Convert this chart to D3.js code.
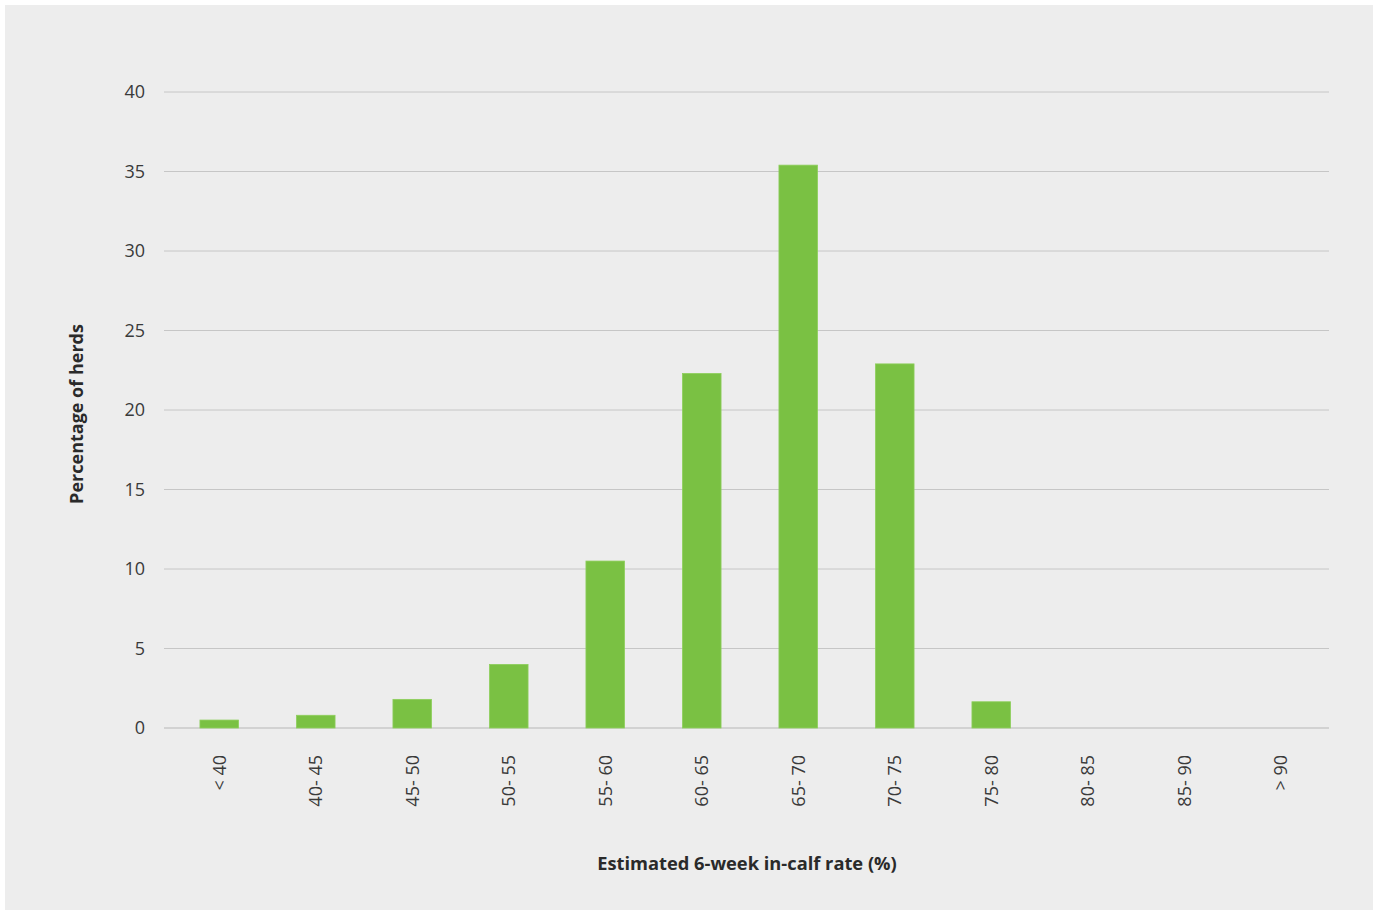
<!DOCTYPE html>
<html><head><meta charset="utf-8">
<script src="https://cdn.jsdelivr.net/npm/d3@7"></script>
<style>body{margin:0;background:#fff}svg{display:block}</style>
</head><body>
<script>
const categories = ["< 40","40- 45","45- 50","50- 55","55- 60","60- 65","65- 70","70- 75","75- 80","80- 85","85- 90","> 90"];
const values = [0.5,0.8,1.8,4.0,10.5,22.3,35.4,22.9,1.65,0,0,0];
const yTicks = [0,5,10,15,20,25,30,35,40];
const yTitle = "Percentage of herds";
const xTitle = "Estimated 6-week in-calf rate (%)";

const W=1378,H=914;
const svg=d3.select("body").append("svg").attr("width",W).attr("height",H);
svg.append("rect").attr("x",5).attr("y",5).attr("width",1368).attr("height",905).attr("fill","#EDEDED");

const x=d3.scaleBand().domain(categories).range([171,1329]).paddingInner(0.6).paddingOuter(0.3);
const y=d3.scaleLinear().domain([0,40]).range([728,92]);
const font="'Open Sans', sans-serif";

svg.append("g").selectAll("line").data(yTicks).join("line")
  .attr("x1",164).attr("x2",1329).attr("y1",d=>y(d)).attr("y2",d=>y(d))
  .attr("stroke",d=>d===0?"#D2D2D2":"#C6C6C6").attr("stroke-width",d=>d===0?2:1);

const ya=svg.append("g").attr("transform","translate(164,0)")
  .call(d3.axisLeft(y).tickValues(yTicks).tickSize(0).tickPadding(19));
ya.select(".domain").remove();
ya.selectAll("text").attr("font-family",font).attr("font-size",18).attr("fill","#3a3a3a");

svg.append("g").selectAll("rect").data(values).join("rect")
  .attr("x",(d,i)=>x(categories[i])).attr("width",x.bandwidth())
  .attr("y",d=>y(d)).attr("height",d=>y(0)-y(d))
  .attr("fill","#7AC143").attr("stroke","#8ECF5C").attr("stroke-width",0.8);

const xa=svg.append("g").attr("transform","translate(0,729)")
  .call(d3.axisBottom(x).tickSize(0).tickPadding(0));
xa.select(".domain").remove();
xa.selectAll("text").attr("font-family",font).attr("font-size",18).attr("fill","#3a3a3a")
  .attr("transform","rotate(-90)").attr("text-anchor","end").attr("dy","0.35em")
  .attr("x",-26).attr("y",0);

svg.append("text").attr("x",747).attr("y",870).attr("text-anchor","middle")
  .attr("font-family",font).attr("font-weight","bold").attr("font-size",18.3).attr("fill","#2a2a2a").text(xTitle);
svg.append("text").attr("transform","translate(83,414) rotate(-90)").attr("text-anchor","middle")
  .attr("font-family",font).attr("font-weight","bold").attr("font-size",18).attr("fill","#2a2a2a").text(yTitle);
</script>
</body></html>
